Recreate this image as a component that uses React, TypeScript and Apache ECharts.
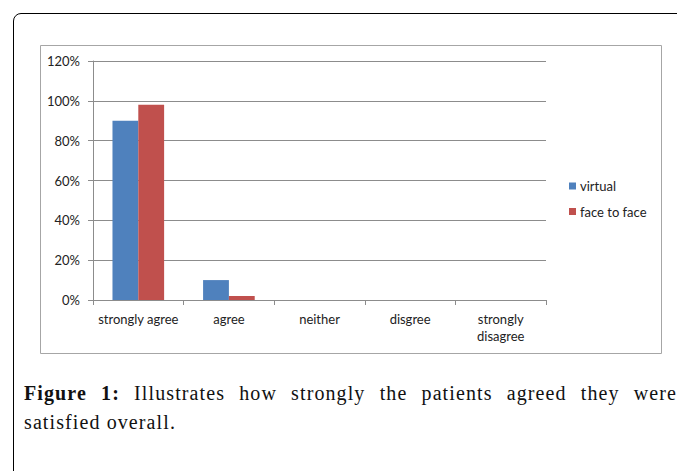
import React, { useEffect, useRef } from "react";
import * as echarts from "echarts";

const categories = ["strongly agree", "agree", "neither", "disgree", "strongly disagree"];
const virtualValues = [90, 10, 0, 0, 0];
const faceToFaceValues = [98, 2, 0, 0, 0];
const seriesNames = ["virtual", "face to face"];
const yTicks = { min: 0, max: 120, interval: 20 };
const captionBold = "Figure 1:";
const captionLine1 = " Illustrates how strongly the patients agreed they were";
const captionLine2 = "satisfied overall.";

export default function App() {
  const ref = useRef<HTMLDivElement>(null);
  useEffect(() => {
    if (!ref.current) return;
    const chart = echarts.init(ref.current, undefined, { renderer: "svg" });
    const font = "Lato, 'Open Sans', sans-serif";
    chart.setOption({
      animation: false,
      color: ["#4F81BD", "#C0504D"],
      textStyle: { fontFamily: font },
      graphic: [
        {
          type: "rect",
          shape: { x: 40.5, y: 45.5, width: 621, height: 308 },
          style: { fill: "none", stroke: "#a6a6a6", lineWidth: 1 },
          silent: true,
        },
      ],
      grid: { left: 93, top: 61, right: 131, bottom: 171, containLabel: false },
      legend: {
        orient: "vertical",
        left: 564,
        top: 174,
        itemWidth: 7,
        itemHeight: 7,
        itemGap: 11.5,
        icon: "rect",
        data: seriesNames,
        textStyle: {
          fontFamily: font,
          fontSize: 13,
          lineHeight: 14,
          color: "#222",
          padding: [0, 0, 0, -1],
        },
      },
      xAxis: {
        type: "category",
        data: categories,
        axisLine: { show: true, lineStyle: { color: "#8c8c8c", width: 1 } },
        axisTick: { show: true, length: 5, lineStyle: { color: "#8c8c8c" } },
        axisLabel: {
          color: "#222",
          fontSize: 13,
          fontFamily: font,
          margin: 10,
          lineHeight: 17,
          interval: 0,
          formatter: (v: string) => (v === "strongly disagree" ? "strongly\ndisagree" : v),
        },
        splitLine: { show: false },
      },
      yAxis: {
        type: "value",
        min: yTicks.min,
        max: yTicks.max,
        interval: yTicks.interval,
        axisLine: { show: true, lineStyle: { color: "#8c8c8c", width: 1 } },
        axisTick: { show: true, length: 5, lineStyle: { color: "#8c8c8c" } },
        axisLabel: { color: "#222", fontSize: 13, fontFamily: font, margin: 13, formatter: "{value}%" },
        splitLine: { show: true, lineStyle: { color: "#8c8c8c", width: 1 } },
      },
      series: [
        {
          name: seriesNames[0],
          type: "bar",
          data: virtualValues,
          barGap: "0%",
          barCategoryGap: "43%",
        },
        {
          name: seriesNames[1],
          type: "bar",
          data: faceToFaceValues,
          barGap: "0%",
          barCategoryGap: "43%",
        },
      ],
    });
    return () => chart.dispose();
  }, []);

  return (
    <div
      style={{
        position: "fixed",
        left: 0,
        top: 0,
        width: 677,
        height: 471,
        background: "#fff",
        overflow: "hidden",
      }}
    >
      <div
        style={{
          position: "absolute",
          left: 13,
          top: 13,
          width: 720,
          height: 520,
          border: "1.5px solid #000",
          borderRadius: 8,
          boxSizing: "border-box",
        }}
      />
      <div ref={ref} style={{ position: "absolute", left: 0, top: 0, width: 677, height: 471 }} />
      <div
        style={{
          position: "absolute",
          left: 24,
          top: 379,
          width: 653,
          fontFamily: "'Liberation Serif', 'Times New Roman', serif",
          fontSize: 20,
          letterSpacing: "1.1px",
          lineHeight: "29px",
          color: "#111",
        }}
      >
        <div style={{ textAlign: "justify", textAlignLast: "justify", whiteSpace: "normal" }}>
          <b>{captionBold}</b>
          {captionLine1}
        </div>
        <div>{captionLine2}</div>
      </div>
    </div>
  );
}
